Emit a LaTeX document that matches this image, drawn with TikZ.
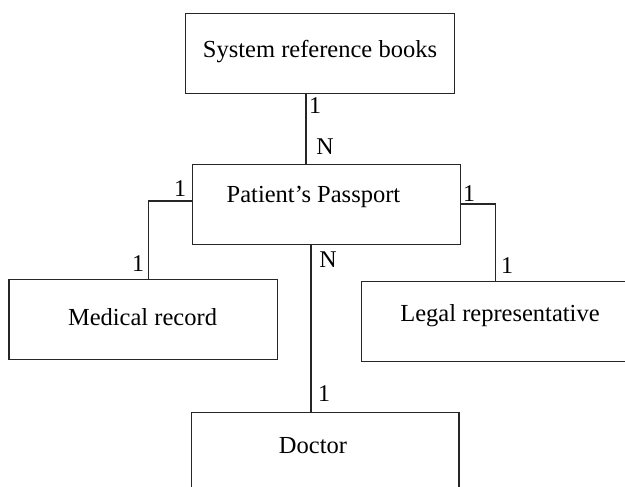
\documentclass[tikz,border=0pt]{standalone}
\usepackage{fontspec}
\setmainfont{Liberation Serif}
\begin{document}
\begin{tikzpicture}[x=1pt,y=-1pt,
  box/.style={draw=black!85, line width=1.2pt, rectangle, inner sep=0pt, anchor=north west},
  lbl/.style={inner sep=0pt, font=\fontsize{24.5}{29}\selectfont},
  card/.style={inner sep=0pt, font=\fontsize{24}{29}\selectfont},
  link/.style={draw=black!85, line width=1.2pt}]
\useasboundingbox (0,0) rectangle (625,487);
\clip (0,0) rectangle (625,487);
% boxes
\node[box, minimum width=268.7pt, minimum height=79.4pt] (srb) at (185,13.3) {};
\node[box, minimum width=268pt, minimum height=79.7pt] (pp) at (192,164.3) {};
\node[box, minimum width=268.4pt, minimum height=80pt] (mr) at (8.3,279) {};
\node[box, minimum width=268pt, minimum height=80pt] (lr) at (361,280.7) {};
\node[box, minimum width=267.6pt, minimum height=80pt] (doc) at (190.7,411.7) {};
% texts
\node[lbl] (srbt) at (320,52) {System reference books};
\node[lbl] (ppt) at (313.5,197) {Patient’s Passport};
\node[lbl] (mrt) at (142.5,317) {Medical record};
\node[lbl] (lrt) at (500,316) {Legal representative};
\node[lbl] (doct) at (313,446) {Doctor};
% connectors
\draw[link] ([xshift=121pt]srb.south west) -- ([xshift=121pt]srb.south west |- pp.north);
\draw[link] ([yshift=-36.7pt]pp.north west) -| ([xshift=140pt]mr.north west);
\draw[link] ([yshift=-39.7pt]pp.north east) -| ([xshift=134.3pt]lr.north west);
\draw[link] ([xshift=119pt]pp.south west) -- ([xshift=119pt]pp.south west |- doc.north);
% cardinalities
\node[card] (c1) at (315,106) {1};
\node[card] (c2) at (325,147) {N};
\node[card] (c3) at (180,189) {1};
\node[card] (c4) at (138,264) {1};
\node[card] (c5) at (469,194) {1};
\node[card] (c6) at (507,266) {1};
\node[card] (c7) at (328,260) {N};
\node[card] (c8) at (324,394) {1};
\end{tikzpicture}
\end{document}
